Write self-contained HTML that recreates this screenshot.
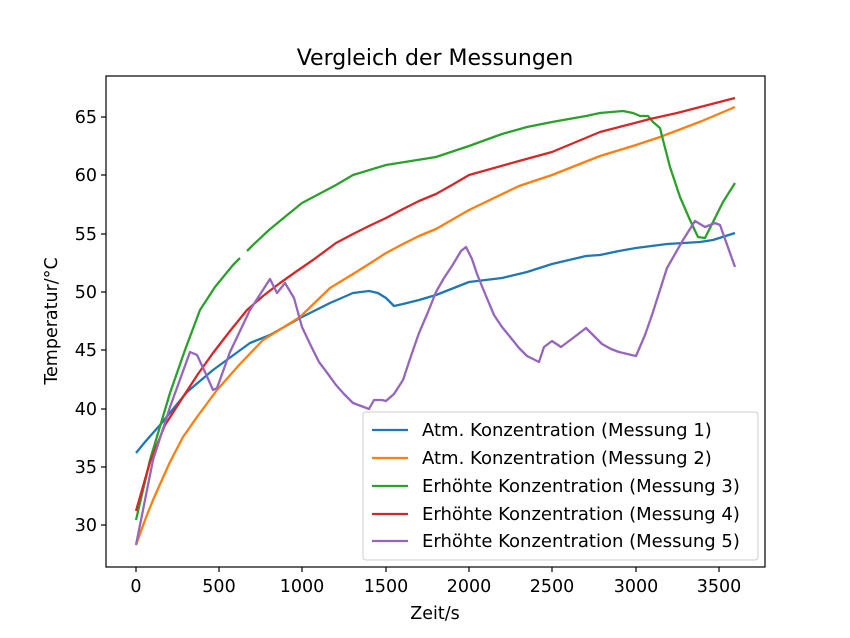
<!DOCTYPE html>
<html><head><meta charset="utf-8"><style>body{margin:0;background:#fff}svg{display:block}text{font-family:"DejaVu Sans","Liberation Sans",sans-serif;fill:#000}</style></head>
<body>
<svg width="850" height="638" viewBox="0 0 850 638">
<rect width="850" height="638" fill="#fff"/>
<g fill="none" stroke-width="2.3" stroke-linejoin="round">
<polyline stroke="#1f77b4" points="136,453 145,442 160,425 187,392 213,370 250,343 270,335 300,318 330,303 353,293 369,291 378,293 386,298 394,306 403,304 419,300 436,295 469,282 502,278 527,272 552,264 586,256 600,255 619,251 636,248 667,244 700,242 713,240 735,233"/>
<polyline stroke="#ff7f0e" points="136,545 145,520 153,500 161,482 170,462 183,437 197,417 217,390 240,364 263,340 300,317 330,288 353,274 369,264 386,253 403,244 419,236 436,229 469,210 519,186 552,175 600,156 636,145 660,137 702,121 735,107"/>
<polyline stroke="#2ca02c" points="136,520 150,460 170,393 185,350 200,310 215,287 233,265 240,258"/>
<polyline stroke="#2ca02c" points="247,251 253,245 269,230 286,216 302,203 336,185 353,175 386,165 436,157 469,146 502,134 527,127 552,122 586,116 600,113 623,111 633,113 640,116 648,116 653,122 660,128 663,140 670,167 680,197 690,220 698,237 705,238 715,218 723,202 735,183"/>
<polyline stroke="#d62728" points="136,511 150,462 165,425 183,397 198,374 213,353 230,331 247,310 263,296 280,283 297,271 313,260 336,243 353,234 369,226 386,218 403,209 419,201 436,194 452,185 469,175 519,161 552,152 600,132 650,119 677,113 735,98"/>
<polyline stroke="#9467bd" points="136,545 153,460 170,407 190,352 197,355 205,372 213,390 217,388 230,352 250,310 270,279 277,293 285,283 294,298 302,327 311,346 319,362 328,374 336,385 344,394 353,403 361,406 369,409 374,400 382,400 386,401 394,394 403,380 411,356 419,333 428,312 436,292 444,278 452,266 461,251 466,247 472,259 477,274 486,296 494,315 502,327 511,338 519,348 527,356 539,362 544,347 552,341 561,347 569,341 577,335 586,328 594,336 602,344 611,349 619,352 636,356 645,335 652,315 667,268 683,240 695,221 705,227 715,223 720,225 735,267"/>
</g>
<rect x="106" y="76" width="659" height="491" fill="none" stroke="#000" stroke-width="1.2"/>
<g stroke="#000" stroke-width="1.2">
<line x1="136" y1="567" x2="136" y2="572"/><line x1="219" y1="567" x2="219" y2="572"/><line x1="302" y1="567" x2="302" y2="572"/><line x1="386" y1="567" x2="386" y2="572"/><line x1="469" y1="567" x2="469" y2="572"/><line x1="552" y1="567" x2="552" y2="572"/><line x1="636" y1="567" x2="636" y2="572"/><line x1="719" y1="567" x2="719" y2="572"/>
<line x1="101" y1="117" x2="106" y2="117"/><line x1="101" y1="175" x2="106" y2="175"/><line x1="101" y1="234" x2="106" y2="234"/><line x1="101" y1="292" x2="106" y2="292"/><line x1="101" y1="350" x2="106" y2="350"/><line x1="101" y1="409" x2="106" y2="409"/><line x1="101" y1="467" x2="106" y2="467"/><line x1="101" y1="525" x2="106" y2="525"/>
</g>
<g font-size="17.5" text-anchor="middle">
<text x="136" y="592">0</text><text x="219" y="592">500</text><text x="302" y="592">1000</text><text x="386" y="592">1500</text><text x="469" y="592">2000</text><text x="552" y="592">2500</text><text x="636" y="592">3000</text><text x="719" y="592">3500</text>
</g>
<g font-size="17.5" text-anchor="end">
<text x="97" y="123">65</text><text x="97" y="181">60</text><text x="97" y="240">55</text><text x="97" y="298">50</text><text x="97" y="356">45</text><text x="97" y="415">40</text><text x="97" y="473">35</text><text x="97" y="531">30</text>
</g>
<text x="435" y="65" font-size="22" text-anchor="middle">Vergleich der Messungen</text>
<text x="435" y="619" font-size="17.5" text-anchor="middle">Zeit/s</text>
<text transform="translate(57,321) rotate(-90)" font-size="17.5" text-anchor="middle">Temperatur/°C</text>
<rect x="363" y="412" width="395" height="148" rx="3" fill="#fff" fill-opacity="0.8" stroke="#ccc"/>
<g stroke-width="2.3">
<line x1="372" y1="430" x2="408" y2="430" stroke="#1f77b4"/>
<line x1="372" y1="458" x2="408" y2="458" stroke="#ff7f0e"/>
<line x1="372" y1="486" x2="408" y2="486" stroke="#2ca02c"/>
<line x1="372" y1="514" x2="408" y2="514" stroke="#d62728"/>
<line x1="372" y1="541" x2="408" y2="541" stroke="#9467bd"/>
</g>
<g font-size="18">
<text x="422" y="436">Atm. Konzentration (Messung 1)</text>
<text x="422" y="464">Atm. Konzentration (Messung 2)</text>
<text x="422" y="492">Erhöhte Konzentration (Messung 3)</text>
<text x="422" y="520">Erhöhte Konzentration (Messung 4)</text>
<text x="422" y="547">Erhöhte Konzentration (Messung 5)</text>
</g>
</svg>
</body></html>
